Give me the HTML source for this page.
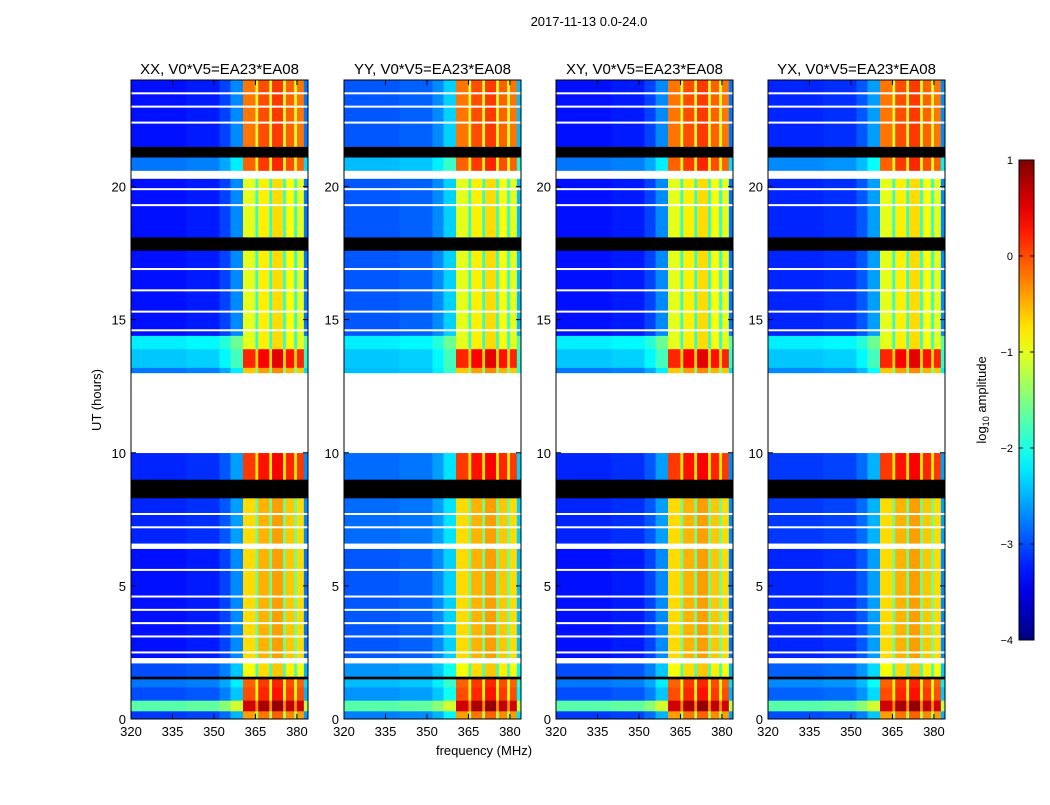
<!DOCTYPE html>
<html><head><meta charset="utf-8"><style>
body{margin:0;background:#fff;}
svg text{font-family:"Liberation Sans",sans-serif;}
</style></head><body>
<svg id="chart" width="1050" height="800" xmlns="http://www.w3.org/2000/svg">
<text x="589" y="26" font-size="13" text-anchor="middle">2017-11-13 0.0-24.0</text>
<text x="484" y="755" font-size="13" text-anchor="middle">frequency (MHz)</text>
<text transform="translate(101,400) rotate(-90)" font-size="13" text-anchor="middle">UT (hours)</text>
<text transform="translate(986,400) rotate(-90)" font-size="13" text-anchor="middle">log<tspan font-size="9" dy="3">10</tspan><tspan dy="-3"> amplitude</tspan></text>
</svg>
<script>
// ---- data ----
const panelTitles = ["XX, V0*V5=EA23*EA08","YY, V0*V5=EA23*EA08","XY, V0*V5=EA23*EA08","YX, V0*V5=EA23*EA08"];
const panelBaseOffset = [0, 0.35, 0, 0.1];
const xTicks = [320,335,350,365,380];
const yTicks = [0,5,10,15,20];
const cbTicks = [1,0,-1,-2,-3,-4];
const cbTickLabels = ["1","0","\u22121","\u22122","\u22123","\u22124"];
// time segments: start hour, end hour, kind (d=data, w=white/blank, b=black/flagged)
const segStart = [0,0.3,0.7,1.2,1.5,1.6,2.1,2.3,6.4,6.6,8.3,9.0,10.0,13.0,13.2,13.9,14.4,17.6,18.1,20.3,20.6,21.1,21.5];
const segEnd   = [0.3,0.7,1.2,1.5,1.6,2.1,2.3,6.4,6.6,8.3,9.0,10.0,13.0,13.2,13.9,14.4,17.6,18.1,20.3,20.6,21.1,21.5,24];
const segKind  = ["d","d","d","d","b","d","w","d","w","d","b","d","w","d","d","d","d","b","d","w","d","b","d"];
const segLow   = [-3.1,-1.7,-3.0,-2.8,0,-3.0,0,-3.3,0,-3.2,0,-3.2,0,-2.8,-2.4,-2.2,-3.3,0,-3.3,0,-2.8,0,-3.3];
const segHigh  = [-0.4,0.6,0.0,-0.1,0,-0.9,0,-0.7,0,-0.7,0,0.1,0,-0.6,0.2,-1.0,-1.0,0,-1.0,0,-0.1,0,-0.2];
const whiteLines = [2.5,3.1,3.6,4.1,4.6,5.6,7.2,7.7,14.6,15.3,16.1,16.9,19.3,19.9,22.4,23.0,23.5];
// frequency channel edges (MHz) and per-channel offsets; band flag 1 = RFI band uses high level
const chanStart = [320,340,352,356,360.5,365,366,370,371,375,376,379,380,382.5];
const chanEnd   = [340,352,356,360.5,365,366,370,371,375,376,379,380,382.5,384];
const chanBand  = [0,0,0,0,1,1,1,1,1,1,1,1,1,0];
const chanOff   = [0,0.05,0.25,0.6,0,-0.9,0.2,-0.9,0.3,-0.9,0.1,-0.9,0,0.5];

// ---- helpers ----
const NS="http://www.w3.org/2000/svg";
const svg=document.getElementById('chart');
function mk(t,a,p){const e=document.createElementNS(NS,t);for(const k in a)e.setAttribute(k,a[k]);(p||svg).appendChild(e);return e;}
function jet(v){let t=(v+4)/5;t=Math.max(0,Math.min(1,t));
 const c=x=>Math.round(255*Math.max(0,Math.min(1,x)));
 return `rgb(${c(1.5-Math.abs(4*t-3))},${c(1.5-Math.abs(4*t-2))},${c(1.5-Math.abs(4*t-1))})`;}
const panelX=[131,344,556,768], PW=177, PT=80, PB=719;
const xMin=320,xMax=384,yMin=0,yMax=24;

panelX.forEach((px,pi)=>{
 const xs=f=>px+(f-xMin)/(xMax-xMin)*PW;
 const ys=h=>PB-(h-yMin)/(yMax-yMin)*(PB-PT);
 const g=mk('g',{});
 
 
 for(let s=0;s<segStart.length;s++){
  for(let c=0;c<chanStart.length;c++){
   let fill;
   if(segKind[s]==='w')fill='#fff';else if(segKind[s]==='b')fill='#000';
   else{const v=(chanBand[c]?segHigh[s]:segLow[s]+panelBaseOffset[pi]*(segLow[s]<-2.5?1:0))+chanOff[c];fill=jet(v);}
   const r=mk('rect',{x:xs(chanStart[c]),y:ys(segEnd[s]),width:xs(chanEnd[c])-xs(chanStart[c])+0.3,height:ys(segStart[s])-ys(segEnd[s])+0.3,fill:fill},g);
   
   
  }
 }
 whiteLines.forEach(h=>{const l=mk('rect',{x:px,y:ys(h)-1,width:PW,height:2,fill:'#fff'},g);
  
  });
 const fr=mk('rect',{x:px,y:PT,width:PW,height:PB-PT,fill:'none',stroke:'#000','stroke-width':1});
 
 
 const tt=mk('text',{x:px+PW/2,y:PT-6,'font-size':15,'text-anchor':'middle'});tt.textContent=panelTitles[pi];
 
 
 xTicks.forEach(f=>{mk('line',{x1:xs(f),x2:xs(f),y1:PB,y2:PB-5,stroke:'#000'});mk('line',{x1:xs(f),x2:xs(f),y1:PT,y2:PT+5,stroke:'#000'});
  const t=mk('text',{x:xs(f),y:PB+17,'font-size':13,'text-anchor':'middle'});t.textContent=f;
  
  });
 yTicks.forEach(h=>{mk('line',{x1:px,x2:px+5,y1:ys(h),y2:ys(h),stroke:'#000'});mk('line',{x1:px+PW,x2:px+PW-5,y1:ys(h),y2:ys(h),stroke:'#000'});
  const t=mk('text',{x:px-5,y:ys(h)+5,'font-size':13,'text-anchor':'end'});t.textContent=h;
  
  });
});
// colorbar
const cbX=1019,cbW=15,cbT=160,cbB=640;
const defs=mk('defs',{});const lg=mk('linearGradient',{id:'jetg',x1:0,y1:1,x2:0,y2:0},defs);
for(let i=0;i<=20;i++){mk('stop',{offset:i/20,'stop-color':jet(-4+5*i/20)},lg);}
const cb=mk('rect',{x:cbX,y:cbT,width:cbW,height:cbB-cbT,fill:'url(#jetg)',stroke:'#000'});


cbTicks.forEach((v,i)=>{const y=cbB-(v+4)/5*(cbB-cbT);
 mk('line',{x1:cbX,x2:cbX+4,y1:y,y2:y,stroke:'#000'});mk('line',{x1:cbX+cbW,x2:cbX+cbW-4,y1:y,y2:y,stroke:'#000'});
 const t=mk('text',{x:cbX-6,y:y+4,'font-size':11,'text-anchor':'end'});t.textContent=cbTickLabels[i];
 
 });
</script>
</body></html>
